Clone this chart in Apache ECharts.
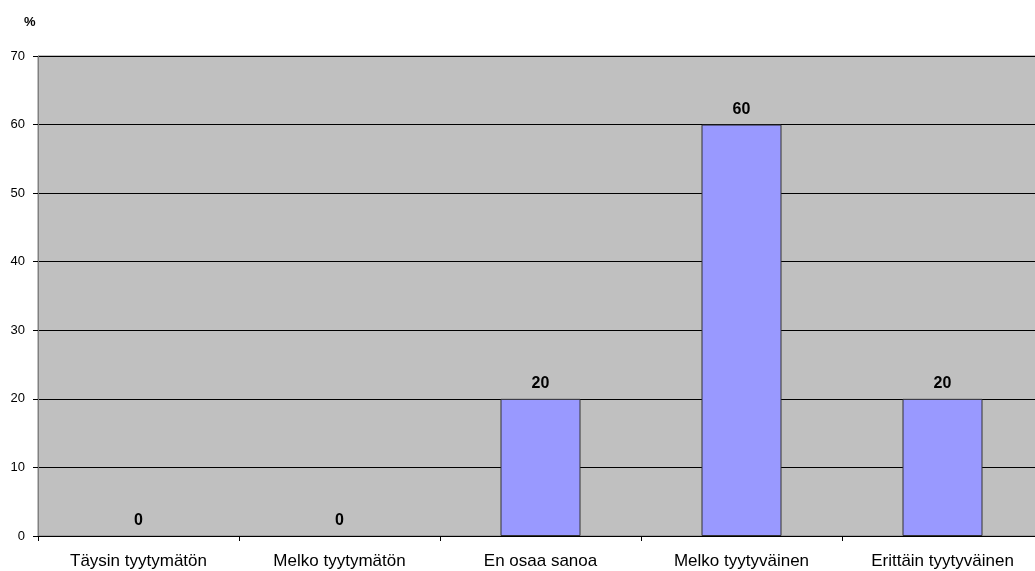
<!DOCTYPE html>
<html>
<head>
<meta charset="utf-8">
<script src="https://cdn.jsdelivr.net/npm/echarts@6/dist/echarts.min.js"></script>
<style>
  html, body { margin: 0; padding: 0; background: #fff; }
  #chart { width: 1035px; height: 571px; }
</style>
</head>
<body>
<div id="chart"></div>
<script>
var categories = ['Täysin tyytymätön', 'Melko tyytymätön', 'En osaa sanoa', 'Melko tyytyväinen', 'Erittäin tyytyväinen'];
var values = [0, 0, 20, 60, 20];

var chart = echarts.init(document.getElementById('chart'));
var option = {
    animation: false,
    textStyle: { fontFamily: 'Liberation Sans, Arial, sans-serif' },
    title: {
        text: '%',
        left: 19,
        top: 11,
        textStyle: { fontSize: 13, fontWeight: 'bold', color: '#000' }
    },
    grid: {
        left: 38,
        width: 1005,
        top: 56,
        bottom: 35,
        outerBoundsMode: 'none',
        containLabel: false,
        show: true,
        backgroundColor: '#c0c0c0',
        borderColor: '#808080',
        borderWidth: 1
    },
    xAxis: {
        type: 'category',
        data: categories,
        axisLine: { lineStyle: { color: '#000', width: 1 } },
        axisTick: { show: true, length: 5, lineStyle: { color: '#000' } },
        axisLabel: { fontSize: 17, color: '#000', margin: 17 }
    },
    yAxis: {
        type: 'value',
        min: 0,
        max: 70,
        interval: 10,
        axisLine: { show: true, lineStyle: { color: '#808080', width: 1 } },
        axisTick: { show: true, length: 5, lineStyle: { color: '#000' } },
        axisLabel: { fontSize: 13, color: '#000', margin: 13 },
        splitLine: { lineStyle: { color: '#000', width: 1 } }
    },
    series: [{
        type: 'bar',
        data: values.map(function (v) {
            return { value: v, itemStyle: { borderWidth: v === 0 ? 0 : 1 } };
        }),
        barWidth: 80,
        itemStyle: { color: '#9999ff', borderColor: '#333' },
        label: {
            show: true,
            position: 'top',
            distance: 7,
            fontSize: 16,
            fontWeight: 'bold',
            color: '#000'
        }
    }]
};
chart.setOption(option);
</script>
</body>
</html>
